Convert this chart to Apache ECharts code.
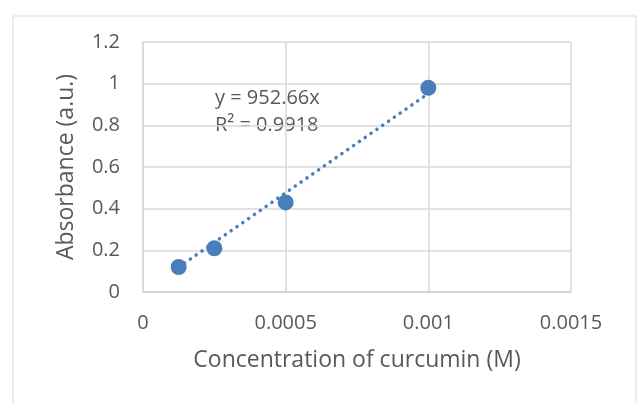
<!DOCTYPE html>
<html>
<head>
<meta charset="utf-8">
<script src="https://cdn.jsdelivr.net/npm/echarts@6/dist/echarts.min.js"></script>
<style>
  html, body { margin: 0; padding: 0; background: #fff; }
  #container { width: 638px; height: 403px; }
</style>
</head>
<body>
<div id="container"></div>
<script>
// measured points
var concentration = [0.000125, 0.00025, 0.0005, 0.001];
var absorbance = [0.12, 0.21, 0.43, 0.98];

// linear trend through origin, as printed on the chart
var slope = 952.66;
var rSquared = 0.9918;
var trendX = [0.000125, 0.001];

var xTicks = ['0', '0.0005', '0.001', '0.0015'];

(function(){
    var dom = document.getElementById("container");
    var myChart = echarts.init(dom);
    var font = 'Open Sans';
    var textColor = '#595959';

    var points = [];
    for (var i = 0; i < concentration.length; i++) {
        points.push([concentration[i], absorbance[i]]);
    }
    var trend = [];
    for (var j = 0; j < trendX.length; j++) {
        trend.push([trendX[j], trendX[j] * slope]);
    }

    var option = {
        backgroundColor: '#fff',
        animation: false,
        graphic: [
            {
                type: 'rect',
                shape: { x: 13, y: 16, width: 623, height: 400 },
                style: { fill: 'none', stroke: '#d9d9d9', lineWidth: 1 }
            },
            {
                type: 'text',
                x: 215, y: 98,
                style: { text: 'y = 952.66x', font: '20px "Open Sans"', fill: textColor, verticalAlign: 'middle' }
            },
            {
                type: 'text',
                x: 215, y: 125,
                style: { text: 'R² = ' + rSquared, font: '20px "Open Sans"', fill: textColor, verticalAlign: 'middle' }
            }
        ],
        grid: { left: 143, right: 67, top: 42, bottom: 111 },
        xAxis: {
            type: 'value',
            min: 0, max: 0.0015, interval: 0.0005,
            name: 'Concentration of curcumin (M)',
            nameLocation: 'middle',
            nameGap: 57,
            nameTextStyle: { fontFamily: font, fontSize: 23, color: textColor },
            axisLine: { show: true, lineStyle: { color: '#d0d0d0', width: 1.5 } },
            axisTick: { show: false },
            splitLine: { show: true, lineStyle: { color: '#d9d9d9', width: 1.5 } },
            axisLabel: {
                fontFamily: font, fontSize: 20, color: textColor, margin: 21,
                formatter: function (v) {
                    return xTicks[Math.round(v / 0.0005)];
                }
            }
        },
        yAxis: {
            type: 'value',
            min: 0, max: 1.2, interval: 0.2,
            name: 'Absorbance (a.u.)',
            nameLocation: 'middle',
            nameGap: 65,
            nameTextStyle: { fontFamily: font, fontSize: 23, color: textColor },
            axisLine: { show: true, lineStyle: { color: '#d9d9d9', width: 1.5 } },
            axisTick: { show: false },
            splitLine: { show: true, lineStyle: { color: '#d9d9d9', width: 1.5 } },
            axisLabel: {
                fontFamily: font, fontSize: 20, color: textColor, margin: 23,
                formatter: function (v) {
                    return String(Math.round(v * 10) / 10);
                }
            }
        },
        series: [
            {
                type: 'line',
                data: trend,
                showSymbol: false,
                symbol: 'none',
                lineStyle: { color: '#4a7ebb', width: 3.5, type: [0.1, 7], cap: 'round' },
                z: 2
            },
            {
                type: 'scatter',
                data: points,
                symbolSize: 16,
                itemStyle: { color: '#4a7ebb', opacity: 1 },
                z: 3
            }
        ]
    };

    myChart.setOption(option, true);
}());
</script>
</body>
</html>
